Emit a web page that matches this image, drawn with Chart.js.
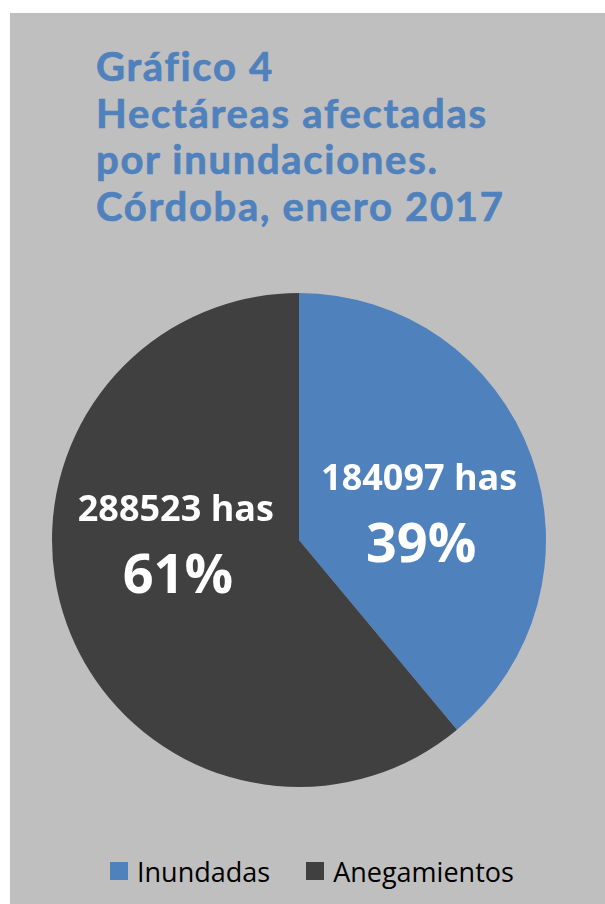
<!DOCTYPE html>
<html lang="es">
<head>
<meta charset="utf-8">
<title>Gráfico 4 - Hectáreas afectadas por inundaciones</title>
<script src="https://cdn.jsdelivr.net/npm/chart.js@4.4.1/dist/chart.umd.min.js"></script>
<style>
  html, body { margin: 0; padding: 0; background: #ffffff; }
  body { width: 605px; height: 904px; position: relative; overflow: hidden; }
  .panel { position: absolute; left: 10px; top: 13px; width: 595px; height: 891px; background: #bfbfbf; }
  .panel h1 {
    position: absolute; left: 86px; top: 30px; margin: 0;
    font: bold 40px/46.5px Lato, sans-serif; color: #4f81bd;
    letter-spacing: 1.7px;
    -webkit-text-stroke: 0.7px #4f81bd;
  }
  .pie-box { position: absolute; left: 29px; top: 267px; width: 520px; height: 520px; }
  .legend {
    position: absolute; left: 100px; top: 841px; height: 34px;
    display: flex; align-items: center;
    font: 27px "Open Sans", sans-serif; color: #000;
  }
  .legend span.item { display: flex; align-items: center; margin-right: 36px; }
  .legend i { display: inline-block; width: 18px; height: 18px; margin-right: 9px; }
</style>
</head>
<body>
<div class="panel">
  <h1>Gráfico 4<br>Hectáreas afectadas<br>por inundaciones.<br>Córdoba, enero 2017</h1>
  <div class="pie-box"><canvas id="pieChart" width="520" height="520"></canvas></div>
  <div class="legend" id="legend"></div>
</div>
<script>
  // --- Data ---
  const categories = ["Inundadas", "Anegamientos"];
  const hectares = [184097, 288523];
  const sliceColors = ["#4f81bd", "#404040"];

  const total = hectares.reduce((a, b) => a + b, 0);

  // label nudges away from the default arc midpoint (px)
  const labelShift = [
    { x: 4, y: 12 },
    { x: -7, y: -41 },
  ];

  // white value + percentage labels inside each slice
  const sliceLabels = {
    id: "sliceLabels",
    afterDatasetsDraw(chart) {
      const { ctx } = chart;
      const meta = chart.getDatasetMeta(0);
      ctx.save();
      ctx.fillStyle = "#ffffff";
      ctx.textAlign = "center";
      ctx.textBaseline = "alphabetic";
      meta.data.forEach((arc, i) => {
        const value = chart.data.datasets[0].data[i];
        const pct = Math.round((value / total) * 100);
        const pos = arc.tooltipPosition();
        const cx = pos.x + labelShift[i].x;
        const cy = pos.y + labelShift[i].y;

        ctx.font = "bold 36px 'Open Sans', sans-serif";
        ctx.fillText(value + " has", cx, cy - 33 + 36 * 0.357);

        ctx.font = "bold 54px 'Open Sans', sans-serif";
        ctx.fillText(pct + "%", cx + 2, cy + 33 + 54 * 0.357);
      });
      ctx.restore();
    },
  };

  const pieChart = new Chart(document.getElementById("pieChart"), {
    type: "pie",
    data: {
      labels: categories,
      datasets: [
        {
          data: hectares,
          backgroundColor: sliceColors,
          borderWidth: 0,
          hoverBorderWidth: 0,
          hoverOffset: 0,
        },
      ],
    },
    options: {
      responsive: false,
      animation: false,
      layout: { padding: 13 },
      plugins: {
        legend: { display: false },
        tooltip: { enabled: false },
      },
    },
    plugins: [sliceLabels],
  });

  // legend built from the chart's own labels and colours
  const legendEl = document.getElementById("legend");
  pieChart.data.labels.forEach((label, i) => {
    const item = document.createElement("span");
    item.className = "item";
    const swatch = document.createElement("i");
    swatch.style.background = pieChart.data.datasets[0].backgroundColor[i];
    item.appendChild(swatch);
    item.appendChild(document.createTextNode(label));
    legendEl.appendChild(item);
  });
</script>
</body>
</html>
